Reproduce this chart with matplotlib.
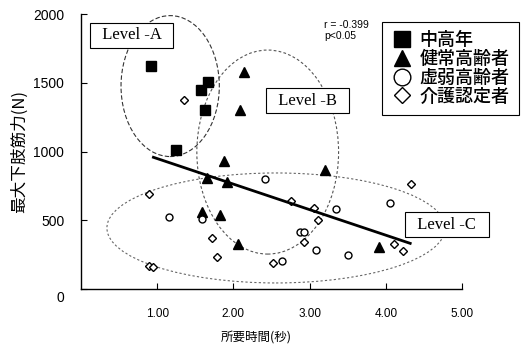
import matplotlib
matplotlib.use("Agg")
import matplotlib.pyplot as plt
from matplotlib.patches import Ellipse
from matplotlib.lines import Line2D
from matplotlib.transforms import ScaledTranslation

plt.rcParams['font.family'] = ['Liberation Sans', 'Noto Sans CJK JP', 'DejaVu Sans']

# 中高年
sq_x = [0.92, 1.66, 1.58, 1.63, 1.24]
sq_y = [1624, 1505, 1447, 1304, 1009]
# 健常高齢者
tri_x = [2.14, 2.08, 1.87, 1.65, 1.91, 1.59, 1.82, 2.06, 3.20, 3.91]
tri_y = [1581, 1302, 931, 807, 780, 562, 538, 325, 865, 308]
# 虚弱高齢者
cir_x = [1.16, 1.59, 2.42, 3.35, 2.87, 2.92, 3.08, 3.51, 2.64, 4.05]
cir_y = [526, 507, 800, 584, 412, 412, 284, 247, 206, 623]
# 介護認定者
dia_x = [1.35, 0.89, 0.89, 0.94, 1.72, 1.78, 2.75, 3.06, 3.11, 2.93, 2.52, 4.33, 4.11, 4.22]
dia_y = [1372, 693, 167, 158, 369, 230, 642, 592, 502, 340, 187, 764, 330, 276]

fit_x = [0.95, 4.32]
fit_y = [958, 332]

labels = ['中高年', '健常高齢者', '虚弱高齢者', '介護認定者']
xticks = [1, 2, 3, 4, 5]
yticks = [0, 500, 1000, 1500, 2000]

fig = plt.figure(figsize=(5.21, 3.45), dpi=100)
ax = fig.add_axes([0.1555, 0.1623, 0.7313, 0.797])

# groups (ellipses): center, width, height
ax.add_patch(Ellipse((1.17, 1476), 1.29, 1025, fill=False, ec='#333333', lw=0.8, ls=(0, (4, 2))))
ax.add_patch(Ellipse((2.45, 996), 1.86, 1484, fill=False, ec='#555555', lw=0.8, ls=(0, (2.5, 2))))
ax.add_patch(Ellipse((2.56, 444), 4.44, 800, fill=False, ec='#666666', lw=0.8, ls=(0, (2, 2))))

ax.plot(sq_x, sq_y, 's', ms=6.5, color='black', ls='none')
ax.plot(tri_x, tri_y, '^', ms=7, color='black', ls='none')
ax.plot(cir_x, cir_y, 'o', ms=5, mfc='white', mec='black', mew=1, ls='none')
ax.plot(dia_x, dia_y, 'D', ms=4, mfc='white', mec='black', mew=1, ls='none')
ax.plot(fit_x, fit_y, color='black', lw=2)

box = dict(boxstyle='square,pad=0.25', fc='white', ec='black', lw=0.8)
for tx, ty, s in [(0.66, 1844, 'Level -A'), (2.97, 1371, 'Level -B'), (4.80, 469, 'Level -C')]:
    ax.text(tx, ty, '  ' + s + '  ', ha='center', va='center', family='Liberation Serif',
            fontsize=12, bbox=box, clip_on=False, zorder=5)

ax.text(3.19, 1880, 'r = -0.399\np<0.05', fontsize=7.5, ha='left', va='center', linespacing=1.2)

ax.set_xlim(0, 5)
ax.set_ylim(0, 2000)
ax.set_xticks(xticks)
ax.set_xticklabels(['%.2f' % v for v in xticks], fontsize=8.5)
ax.set_yticks(yticks)
ax.set_yticklabels([str(v) for v in yticks], fontsize=10)
ax.tick_params(axis='x', direction='in', length=4, pad=14)
ax.tick_params(axis='y', direction='in', length=4, pad=12)
ax.spines['top'].set_visible(False)
ax.spines['right'].set_visible(False)
for s in ['left', 'bottom']:
    ax.spines[s].set_linewidth(1.0)

# the "0" label sits a little below the axis in the original
lbl0 = ax.get_yticklabels()[0]
lbl0.set_transform(lbl0.get_transform() + ScaledTranslation(0, -0.07, fig.dpi_scale_trans))

ax.set_xlabel('所要時間(秒)', family=['Noto Sans CJK JP', 'DejaVu Sans'], fontsize=9, labelpad=2)
ax.xaxis.set_label_coords(0.46, -0.155)
ax.set_ylabel('最大下肢筋力(N)', family=['Noto Sans CJK JP', 'DejaVu Sans'], fontsize=12, labelpad=4)

handles = [
    Line2D([], [], marker='s', ms=11, color='black', ls='none'),
    Line2D([], [], marker='^', ms=12, color='black', ls='none'),
    Line2D([], [], marker='o', ms=12, mfc='white', mec='black', mew=1, ls='none'),
    Line2D([], [], marker='D', ms=8, mfc='white', mec='black', mew=1, ls='none'),
]
leg = ax.legend(handles, labels, loc='upper left', bbox_to_anchor=(0.733, 0.936),
                bbox_transform=fig.transFigure,
                prop={'family': 'Noto Sans CJK JP', 'size': 13, 'weight': 'medium'},
                frameon=True, fancybox=False, edgecolor='black', framealpha=1,
                labelspacing=0.05, handletextpad=0.4, handlelength=1.2, borderpad=0.5,
                borderaxespad=0)
leg.get_frame().set_linewidth(0.8)

fig.savefig('out.png', dpi=100)
